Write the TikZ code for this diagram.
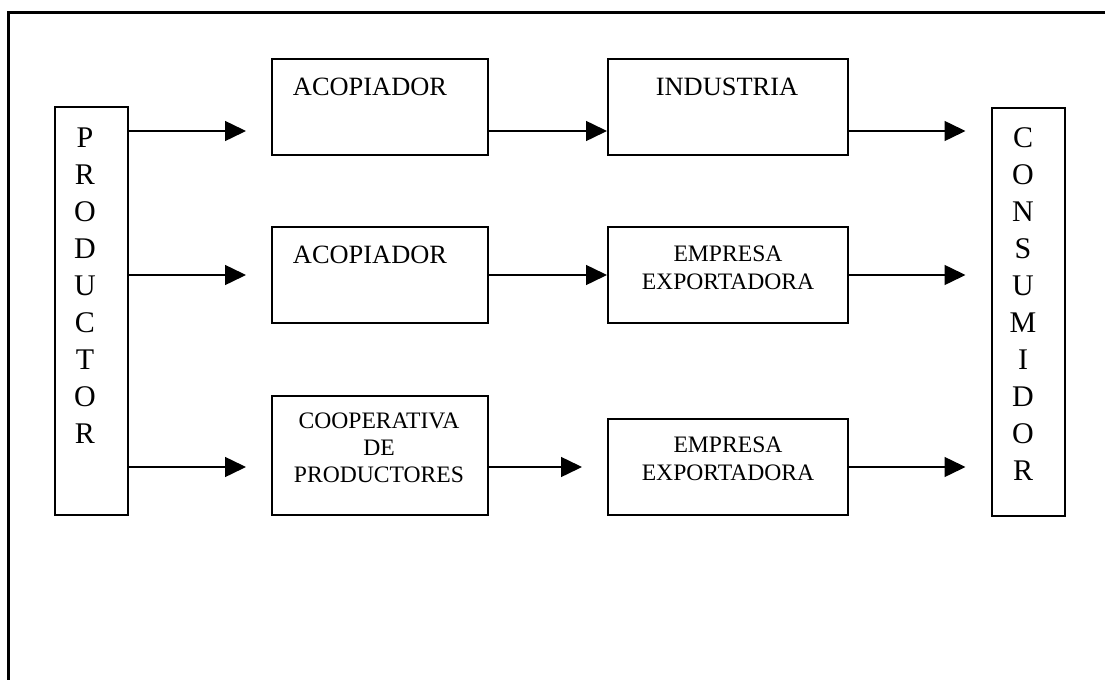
\documentclass[tikz,border=0pt]{standalone}
\usepackage{fontspec}
\setmainfont{Liberation Serif}
\usetikzlibrary{arrows.meta,positioning}
\tikzset{
  box/.style    = { draw, line width=1pt, inner sep=0pt },
  hbox/.style   = { box, minimum width=108pt, minimum height=48pt },
  wide/.style   = { minimum width=120pt },
  vbox/.style   = { box, minimum width=36.5pt, minimum height=204pt },
  lbl/.style    = { inner sep=0pt, font=\fontsize{13.2}{15}\selectfont },
  mlbl/.style   = { inner sep=0pt, align=center, font=\fontsize{11.8}{14}\selectfont },
  vlbl/.style   = { inner sep=0pt, align=center, anchor=north,
    font=\fontsize{15}{18.5}\selectfont },
  arr/.style    = { -{Triangle[length=10.5pt,width=10pt]}, line width=0.75pt }
}
\begin{document}
\begin{tikzpicture}[x=0.5pt,y=-0.5pt,node distance=84pt,on grid]
  \useasboundingbox (0,0) rectangle (1105,680);
  % frame
  \draw[line width=1.5pt] (8,680) -- (8,12) -- (1105,12);
  % ends
  \node[vbox] (prod) at (91.5,311) {};
  \node[vbox] (cons) at (1028,311.5) {};
  \node[vlbl] at (85,127) {P\\R\\O\\D\\U\\C\\T\\O\\R};
  \node[vlbl] at (1023,127) {C\\O\\N\\S\\U\\M\\I\\D\\O\\R};
  % middle boxes
  \node[hbox] (aco1) at (380,107) {};
  \node[hbox, wide, right=174pt of aco1] (ind) {};
  \node[hbox, below=of aco1] (aco2) {};
  \node[hbox, wide, below=of ind] (exp1) {};
  \node[hbox, minimum height=59.5pt, below=90.25pt of aco2] (coop) {};
  \node[hbox, wide, below=96pt of exp1] (exp2) {};
  % labels
  \node[lbl] at (370,87) {ACOPIADOR};
  \node[lbl] at (727,87) {INDUSTRIA};
  \node[lbl] at (370,255) {ACOPIADOR};
  \node[mlbl] at (728,267.5) {EMPRESA\\EXPORTADORA};
  \node[mlbl, font=\fontsize{11.8}{13.5}\selectfont] at (379,448) {COOPERATIVA\\DE\\PRODUCTORES};
  \node[mlbl] at (728,459) {EMPRESA\\EXPORTADORA};
  % row 1
  \draw[arr] ([yshift=-12pt]prod.east |- aco1.west) -- ([xshift=-12.5pt,yshift=-12pt]aco1.west);
  \draw[arr] ([yshift=-12pt]aco1.east) -- ([yshift=-12pt]ind.west);
  \draw[arr] ([yshift=-12pt]ind.east) -- ([xshift=-12.5pt,yshift=-12pt]cons.west |- ind.west);
  % row 2
  \draw[arr] (prod.east |- aco2.west) -- ([xshift=-12.5pt]aco2.west);
  \draw[arr] (aco2.east) -- (exp1.west);
  \draw[arr] (exp1.east) -- ([xshift=-12.5pt]cons.west |- exp1.west);
  % row 3
  \draw[arr] (prod.east |- exp2.west) -- ([xshift=-12.5pt]coop.west |- exp2.west);
  \draw[arr] (coop.east |- exp2.west) -- ([xshift=-12.5pt]exp2.west);
  \draw[arr] (exp2.east) -- ([xshift=-12.5pt]cons.west |- exp2.west);
\end{tikzpicture}
\end{document}
